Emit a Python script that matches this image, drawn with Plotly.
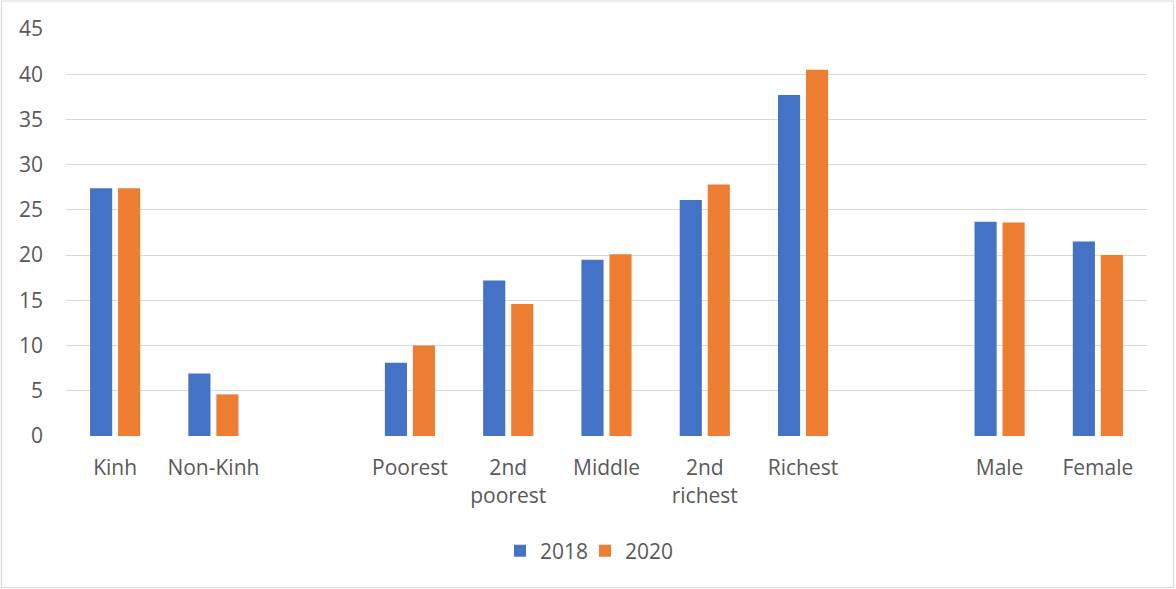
import plotly.graph_objects as go

# Category slots; empty strings leave a visual gap between groups
categories = ["Kinh", "Non-Kinh", "", "Poorest", "2nd poorest", "Middle",
              "2nd richest", "Richest", "", "Male", "Female"]
values_2018 = [27.4, 6.9, None, 8.1, 17.2, 19.5, 26.1, 37.7, None, 23.7, 21.5]
values_2020 = [27.4, 4.6, None, 10.0, 14.6, 20.1, 27.8, 40.5, None, 23.6, 20.0]
series_names = ["2018", "2020"]
y_ticks = [0, 5, 10, 15, 20, 25, 30, 35, 40, 45]

W, H = 1176, 589
ML, MR, MT, MB = 66, 29, 29, 153
PW, PH = W - ML - MR, H - MT - MB

FONT = "Open Sans"
FS = 21
TEXT = "#595959"
GRID = "#d9d9d9"
COLORS = ["#4472C4", "#ED7D31"]
LEGEND_IDS = ["legend", "legend2"]
LEGEND_LEFT_PX = [500, 585]

positions = list(range(len(categories)))
tick_text = [c.replace(" ", "<br>") for c in categories]

fig = go.Figure()
for name, vals, col, lg in zip(series_names, [values_2018, values_2020], COLORS, LEGEND_IDS):
    fig.add_trace(go.Bar(
        x=positions, y=vals, name=name, legend=lg,
        marker=dict(color=col, line=dict(width=0)),
    ))

legend_style = dict(
    orientation="h", xanchor="left",
    y=(MT + PH - 551) / PH, yanchor="middle",
    font=dict(family=FONT, size=FS, color=TEXT),
    bgcolor="rgba(0,0,0,0)",
)

fig.update_layout(
    width=W, height=H,
    margin=dict(l=ML, r=MR, t=MT, b=MB),
    paper_bgcolor="white", plot_bgcolor="white",
    barmode="group", bargap=0.43, bargroupgap=0.21,
    font=dict(family=FONT, size=FS, color=TEXT),
    showlegend=True,
    legend=dict(x=(LEGEND_LEFT_PX[0] - ML) / PW, **legend_style),
    legend2=dict(x=(LEGEND_LEFT_PX[1] - ML) / PW, **legend_style),
    xaxis=dict(
        range=[-0.5, len(categories) - 0.5],
        tickmode="array", tickvals=positions, ticktext=tick_text,
        showgrid=False, zeroline=False, showline=False,
        ticks="outside", ticklen=13, tickcolor="rgba(0,0,0,0)",
        tickfont=dict(family=FONT, size=FS, color=TEXT),
        fixedrange=True,
    ),
    yaxis=dict(
        range=[0, 45], tickmode="array", tickvals=y_ticks,
        showgrid=True, gridcolor=GRID, gridwidth=1.3,
        zeroline=False, showline=False,
        ticklabelstandoff=22,
        tickfont=dict(family=FONT, size=FS, color=TEXT),
        fixedrange=True,
    ),
    shapes=[dict(
        type="rect", xref="paper", yref="paper",
        x0=(1.5 - ML) / PW, x1=(W - 2.5 - ML) / PW,
        y0=(MT + PH - (H - 1.5)) / PH, y1=(MT + PH - 1) / PH,
        line=dict(color="#d9d9d9", width=1.2), fillcolor="rgba(0,0,0,0)",
    )],
)

fig.write_html("out.html")
